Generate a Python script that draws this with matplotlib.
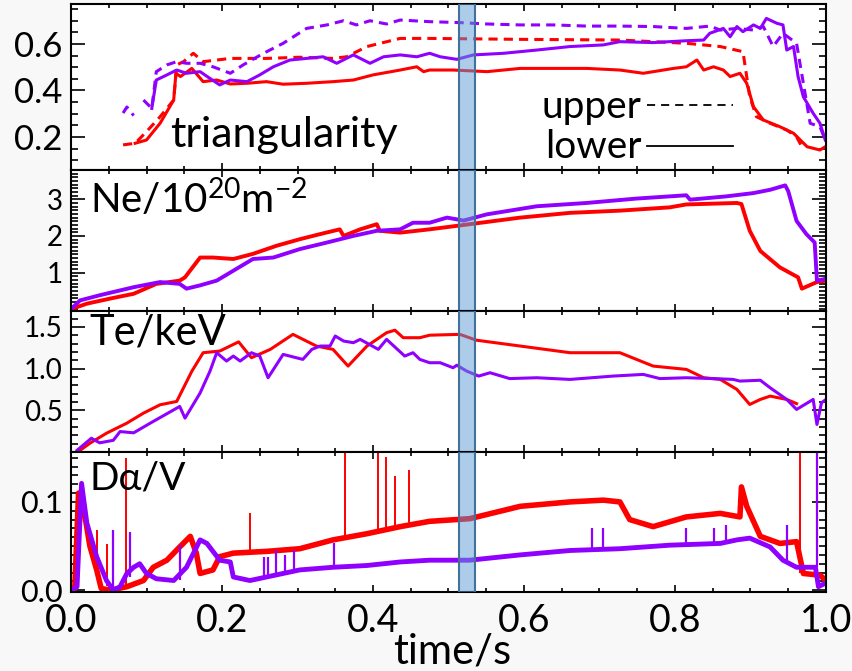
import matplotlib.pyplot as plt
from matplotlib.ticker import MultipleLocator, FixedLocator, FormatStrFormatter

plt.rcParams['font.family'] = ['Lato', 'DejaVu Sans']
plt.rcParams['mathtext.fontset'] = 'custom'
plt.rcParams['mathtext.rm'] = 'Lato'
plt.rcParams['mathtext.it'] = 'Lato:italic'

RED = '#ff0000'
PURPLE = '#9000ff'
nan = float('nan')

# shaded time window
window = (0.514, 0.535)

# triangularity, upper (dashed) and lower (solid)
tri_up_red_t = [0.069, 0.085, 0.100, 0.118, 0.136, 0.140, 0.149, 0.162, 0.175, 0.193, 0.211, 0.259, 0.303,
                0.347, 0.365, 0.392, 0.436, 0.475, 0.595, 0.727, 0.815, 0.860, 0.890, 0.899, 0.908, 0.926,
                0.948, 0.961, 0.968]
tri_up_red = [0.166, 0.173, 0.223, 0.287, 0.359, 0.510, 0.524, 0.560, 0.524, 0.531, 0.538, 0.538, 0.543,
              0.538, 0.545, 0.589, 0.624, 0.624, 0.620, 0.617, 0.603, 0.589, 0.567, 0.373, 0.287, 0.259,
              0.230, 0.201, 0.158]
tri_lo_red_t = [0.085, 0.100, 0.118, 0.136, 0.139, 0.145, 0.160, 0.175, 0.193, 0.211, 0.233, 0.259, 0.281,
                0.312, 0.347, 0.374, 0.400, 0.436, 0.458, 0.467, 0.475, 0.506, 0.551, 0.595, 0.639, 0.683,
                0.727, 0.758, 0.798, 0.815, 0.829, 0.838, 0.851, 0.864, 0.873, 0.886, 0.895, 0.904, 0.917,
                0.939, 0.957, 0.975, 0.992, 0.999]
tri_lo_red = [0.173, 0.187, 0.259, 0.359, 0.474, 0.460, 0.495, 0.438, 0.445, 0.428, 0.431, 0.438, 0.427,
              0.431, 0.438, 0.445, 0.467, 0.488, 0.502, 0.481, 0.488, 0.488, 0.481, 0.495, 0.495, 0.495,
              0.488, 0.474, 0.495, 0.502, 0.531, 0.488, 0.502, 0.488, 0.460, 0.474, 0.431, 0.330, 0.273,
              0.244, 0.216, 0.158, 0.144, 0.158]
tri_up_pur_t = [0.069, 0.074, 0.083, nan, 0.096, 0.107, 0.113, 0.127, 0.140, 0.153, 0.171, 0.188, 0.211,
                0.228, 0.255, 0.281, 0.312, 0.339, 0.361, 0.378, 0.396, 0.418, 0.436, 0.475, 0.515, 0.551,
                0.595, 0.639, 0.683, 0.727, 0.771, 0.815, 0.846, 0.860, 0.882, 0.904, 0.917, 0.930, 0.943,
                0.961, 0.970, 0.979, 0.992, 0.999]
tri_up_pur = [0.303, 0.329, 0.292, nan, 0.359, 0.323, 0.481, 0.510, 0.524, 0.517, 0.517, 0.502, 0.474,
              0.510, 0.560, 0.603, 0.667, 0.682, 0.700, 0.682, 0.700, 0.686, 0.703, 0.696, 0.692, 0.686,
              0.682, 0.682, 0.677, 0.677, 0.675, 0.667, 0.677, 0.660, 0.667, 0.660, 0.675, 0.589, 0.646,
              0.603, 0.431, 0.259, 0.244, 0.187]
tri_lo_pur_t = [0.107, 0.113, 0.127, 0.140, 0.153, 0.171, 0.184, 0.197, 0.211, 0.233, 0.250, 0.268, 0.290,
                0.312, 0.334, 0.352, 0.374, 0.396, 0.414, 0.436, 0.458, 0.475, 0.489, 0.511, 0.533, 0.573,
                0.617, 0.661, 0.705, 0.727, 0.771, 0.815, 0.838, 0.846, 0.864, 0.873, 0.882, 0.890, 0.904,
                0.913, 0.921, 0.935, 0.943, 0.948, 0.957, 0.963, 0.970, 0.983, 0.992, 0.999]
tri_lo_pur = [0.323, 0.445, 0.467, 0.488, 0.474, 0.481, 0.452, 0.424, 0.445, 0.438, 0.467, 0.502, 0.531,
              0.538, 0.545, 0.517, 0.553, 0.517, 0.545, 0.553, 0.545, 0.560, 0.545, 0.534, 0.553, 0.560,
              0.574, 0.589, 0.596, 0.610, 0.606, 0.614, 0.617, 0.646, 0.667, 0.631, 0.675, 0.653, 0.682,
              0.667, 0.710, 0.689, 0.682, 0.574, 0.589, 0.460, 0.373, 0.302, 0.259, 0.187]

# line-integrated density
ne_red_t = [0.0, 0.021, 0.052, 0.083, 0.113, 0.144, 0.151, 0.171, 0.188, 0.215, 0.241, 0.272, 0.303, 0.330,
            0.356, 0.361, 0.383, 0.405, 0.409, 0.436, 0.475, 0.528, 0.595, 0.661, 0.727, 0.793, 0.815, 0.882,
            0.888, 0.899, 0.913, 0.939, 0.963, 0.968, 0.988, 1.0]
ne_red = [0.0, 0.15, 0.29, 0.42, 0.69, 0.78, 0.87, 1.41, 1.41, 1.37, 1.51, 1.73, 1.91, 2.05,
          2.18, 2.00, 2.18, 2.32, 2.14, 2.09, 2.18, 2.32, 2.50, 2.63, 2.69, 2.78, 2.86, 2.90,
          2.87, 2.14, 1.59, 1.14, 0.87, 0.56, 0.74, 0.78]
ne_pur_t = [0.0, 0.012, 0.038, 0.083, 0.118, 0.144, 0.153, 0.171, 0.193, 0.215, 0.241, 0.268, 0.303, 0.339,
            0.374, 0.405, 0.436, 0.453, 0.475, 0.498, 0.520, 0.551, 0.617, 0.683, 0.749, 0.815, 0.820, 0.868,
            0.904, 0.926, 0.946, 0.950, 0.961, 0.974, 0.985, 0.988, 1.0]
ne_pur = [0.0, 0.24, 0.38, 0.60, 0.74, 0.69, 0.56, 0.65, 0.78, 1.05, 1.37, 1.41, 1.64, 1.82,
          2.00, 2.14, 2.18, 2.36, 2.36, 2.50, 2.42, 2.59, 2.81, 2.90, 3.02, 3.11, 2.99, 3.08,
          3.17, 3.26, 3.38, 3.22, 2.41, 2.05, 1.82, 0.78, 0.83]

# electron temperature
te_red_t = [0.012, 0.025, 0.047, 0.074, 0.096, 0.118, 0.140, 0.160, 0.175, 0.197, 0.222, 0.239, 0.264, 0.294,
            0.325, 0.347, 0.367, 0.392, 0.418, 0.429, 0.440, 0.462, 0.475, 0.515, 0.537, 0.595, 0.661, 0.727,
            0.771, 0.815, 0.838, 0.860, 0.882, 0.899, 0.913, 0.926, 0.948, 0.961]
te_red = [0.02, 0.105, 0.225, 0.346, 0.466, 0.566, 0.606, 0.967, 1.19, 1.21, 1.32, 1.13, 1.23, 1.41,
          1.27, 1.23, 1.03, 1.27, 1.43, 1.46, 1.37, 1.37, 1.40, 1.41, 1.34, 1.27, 1.19, 1.19,
          1.03, 0.99, 0.89, 0.87, 0.75, 0.57, 0.63, 0.67, 0.63, 0.58]
te_pur_t = [0.008, 0.027, 0.038, 0.056, 0.065, 0.083, 0.105, 0.144, 0.151, 0.171, 0.184, 0.193, 0.206, 0.215,
            0.224, 0.239, 0.250, 0.261, 0.281, 0.307, 0.319, 0.330, 0.343, 0.350, 0.361, 0.374, 0.383, 0.407,
            0.418, 0.442, 0.453, 0.462, 0.475, 0.489, 0.506, 0.511, 0.524, 0.540, 0.555, 0.581, 0.617, 0.661,
            0.718, 0.758, 0.780, 0.815, 0.851, 0.877, 0.886, 0.913, 0.926, 0.948, 0.961, 0.983, 0.988, 0.994,
            1.0]
te_pur = [0.02, 0.165, 0.11, 0.14, 0.245, 0.23, 0.346, 0.546, 0.406, 0.707, 0.967, 1.19, 1.09, 1.15,
          1.09, 1.19, 1.15, 0.89, 1.17, 1.11, 1.23, 1.27, 1.27, 1.39, 1.33, 1.31, 1.35, 1.23,
          1.35, 1.15, 1.19, 1.11, 1.07, 1.07, 1.01, 1.04, 0.97, 0.91, 0.95, 0.88, 0.89, 0.87,
          0.91, 0.93, 0.88, 0.89, 0.88, 0.87, 0.85, 0.86, 0.77, 0.63, 0.51, 0.63, 0.33, 0.59,
          0.63]

# D-alpha emission
da_red_t = [0.0, 0.005, 0.010, 0.014, 0.020, 0.025, 0.034, 0.040, 0.052, 0.074, 0.096, 0.109, 0.127, 0.144,
            0.158, 0.166, 0.171, 0.188, 0.197, 0.215, 0.259, 0.303, 0.347, 0.392, 0.436, 0.475, 0.528, 0.595,
            0.661, 0.705, 0.727, 0.740, 0.771, 0.815, 0.860, 0.886, 0.888, 0.895, 0.913, 0.939, 0.961, 0.970,
            0.992, 1.0]
da_red = [0.0, 0.002, 0.110, 0.100, 0.076, 0.050, 0.023, 0.002, 0.0, 0.004, 0.011, 0.026, 0.034, 0.049,
          0.061, 0.042, 0.019, 0.023, 0.038, 0.042, 0.044, 0.047, 0.057, 0.064, 0.072, 0.078, 0.081, 0.095,
          0.100, 0.102, 0.100, 0.080, 0.072, 0.083, 0.087, 0.083, 0.117, 0.095, 0.061, 0.053, 0.055, 0.019,
          0.017, 0.011]
da_pur_t = [0.0, 0.008, 0.014, 0.021, 0.034, 0.047, 0.056, 0.065, 0.074, 0.083, 0.091, 0.100, 0.113, 0.136,
            0.153, 0.171, 0.180, 0.197, 0.211, 0.215, 0.237, 0.259, 0.303, 0.347, 0.392, 0.436, 0.475, 0.528,
            0.595, 0.661, 0.727, 0.793, 0.860, 0.882, 0.899, 0.926, 0.943, 0.961, 0.986, 0.990, 0.999]
da_pur = [0.0, 0.004, 0.121, 0.076, 0.038, 0.011, 0.0, 0.004, 0.019, 0.026, 0.030, 0.019, 0.013, 0.011,
          0.026, 0.057, 0.053, 0.034, 0.032, 0.015, 0.011, 0.015, 0.023, 0.026, 0.028, 0.032, 0.034, 0.034,
          0.040, 0.045, 0.047, 0.051, 0.053, 0.057, 0.059, 0.049, 0.034, 0.026, 0.026, 0.004, 0.008]

# spikes: time, base, peak
da_red_spike_t = [0.034, 0.048, 0.073, 0.237, 0.363, 0.407, 0.417, 0.429, 0.448, 0.966]
da_red_spike_lo = [0.020, 0.005, 0.004, 0.042, 0.060, 0.066, 0.067, 0.068, 0.072, 0.019]
da_red_spike_hi = [0.068, 0.052, 0.150, 0.088, 0.157, 0.157, 0.151, 0.129, 0.136, 0.157]
da_pur_spike_t = [0.055, 0.078, 0.144, 0.256, 0.261, 0.272, 0.284, 0.296, 0.348, 0.690, 0.705, 0.815,
                  0.852, 0.868, 0.948, 0.988]
da_pur_spike_lo = [0.0, 0.015, 0.012, 0.014, 0.014, 0.015, 0.018, 0.020, 0.026, 0.046, 0.047, 0.051,
                   0.052, 0.053, 0.034, 0.026]
da_pur_spike_hi = [0.068, 0.066, 0.051, 0.038, 0.038, 0.045, 0.040, 0.045, 0.053, 0.070, 0.070, 0.070,
                   0.071, 0.074, 0.074, 0.155]

fig = plt.figure(figsize=(8.53, 6.71), dpi=100, facecolor='#f8f8f8')
left, width = 71 / 853, 755 / 853


def panel(top_px, bot_px):
    return fig.add_axes([left, 1 - bot_px / 671, width, (bot_px - top_px) / 671])


ax1 = panel(4, 170)
ax2 = panel(170, 311)
ax3 = panel(311, 452)
ax4 = panel(452, 592)
axes = [ax1, ax2, ax3, ax4]

lw = 2.2
ax1.plot(tri_up_red_t, tri_up_red, color=RED, lw=lw, ls=(0, (3, 2)))
ax1.plot(tri_lo_red_t, tri_lo_red, color=RED, lw=lw)
ax1.plot(tri_up_pur_t, tri_up_pur, color=PURPLE, lw=lw, ls=(0, (3, 2)))
ax1.plot(tri_lo_pur_t, tri_lo_pur, color=PURPLE, lw=lw)

ax2.plot(ne_red_t, ne_red, color=RED, lw=2.8)
ax2.plot(ne_pur_t, ne_pur, color=PURPLE, lw=2.8)

ax3.plot(te_red_t, te_red, color=RED, lw=lw)
ax3.plot(te_pur_t, te_pur, color=PURPLE, lw=lw)

ax4.plot(da_red_t, da_red, color=RED, lw=4)
ax4.vlines(da_red_spike_t, da_red_spike_lo, da_red_spike_hi, color=RED, lw=1.4)
ax4.plot(da_pur_t, da_pur, color=PURPLE, lw=3.5)
ax4.vlines(da_pur_spike_t, da_pur_spike_lo, da_pur_spike_hi, color=PURPLE, lw=1.6)

ax1.set_ylim(0.058, 0.772)
ax2.set_ylim(-0.05, 3.8)
ax3.set_ylim(0.0, 1.69)
ax4.set_ylim(-0.002, 0.1565)

ax1.yaxis.set_major_locator(FixedLocator([0.2, 0.4, 0.6]))
ax1.yaxis.set_minor_locator(MultipleLocator(0.05))
ax1.yaxis.set_major_formatter(FormatStrFormatter('%.1f'))
ax2.yaxis.set_major_locator(FixedLocator([1, 2, 3]))
ax2.yaxis.set_minor_locator(MultipleLocator(0.1))
ax2.yaxis.set_major_formatter(FormatStrFormatter('%d'))
ax3.yaxis.set_major_locator(FixedLocator([0.5, 1.0, 1.5]))
ax3.yaxis.set_minor_locator(MultipleLocator(0.1))
ax3.yaxis.set_major_formatter(FormatStrFormatter('%.1f'))
ax4.yaxis.set_major_locator(FixedLocator([0.0, 0.1]))
ax4.yaxis.set_minor_locator(MultipleLocator(0.01))
ax4.yaxis.set_major_formatter(FormatStrFormatter('%.1f'))

ylabel_sizes = [25, 20, 20, 22]
for ax, fs in zip(axes, ylabel_sizes):
    ax.set_xlim(0, 1.0)
    ax.xaxis.set_major_locator(MultipleLocator(0.2))
    ax.xaxis.set_minor_locator(MultipleLocator(0.05))
    ax.tick_params(which='both', direction='in', top=True, right=True, width=1.2)
    ax.tick_params(axis='y', which='major', length=10)
    ax.tick_params(axis='y', which='minor', length=5)
    ax.tick_params(axis='x', which='major', length=5)
    ax.tick_params(axis='x', which='minor', length=3)
    ax.tick_params(axis='y', labelsize=fs, pad=6)
    for s in ax.spines.values():
        s.set_linewidth(1.5)
    ax.axvspan(*window, facecolor='#5b9bd5', alpha=0.5, edgecolor='none', zorder=5)
    ax.axvline(window[0], color='#41719c', lw=1.5, zorder=6)
    ax.axvline(window[1], color='#41719c', lw=1.5, zorder=6)
    if ax is not ax4:
        ax.tick_params(axis='x', labelbottom=False)

ax4.xaxis.set_major_formatter(FormatStrFormatter('%.1f'))
ax4.tick_params(axis='x', labelsize=27, pad=8)

# panel titles
ax1.text(0.131, 0.139, 'triangularity', transform=ax1.transAxes, fontsize=31)
ax2.text(0.025, 0.695, r'Ne/10$^{20}$m$^{-2}$', transform=ax2.transAxes, fontsize=29)
ax3.text(0.025, 0.759, 'Te/keV', transform=ax3.transAxes, fontsize=30)
ax4.text(0.025, 0.729, 'D\u03b1/V', transform=ax4.transAxes, fontsize=28)

# line style key
ax1.text(0.756, 0.313, 'upper', transform=ax1.transAxes, fontsize=28, ha='right')
ax1.text(0.756, 0.072, 'lower', transform=ax1.transAxes, fontsize=28, ha='right')
ax1.plot([0.763, 0.877], [0.392, 0.392], transform=ax1.transAxes, color='k', lw=1.3, ls=(0, (4.5, 3.3)))
ax1.plot([0.763, 0.877], [0.145, 0.145], transform=ax1.transAxes, color='k', lw=1.3)

fig.text(452 / 853, 1 - 652 / 671, 'time/s', ha='center', va='center', fontsize=30)

fig.savefig('out.png', dpi=100, facecolor=fig.get_facecolor())
